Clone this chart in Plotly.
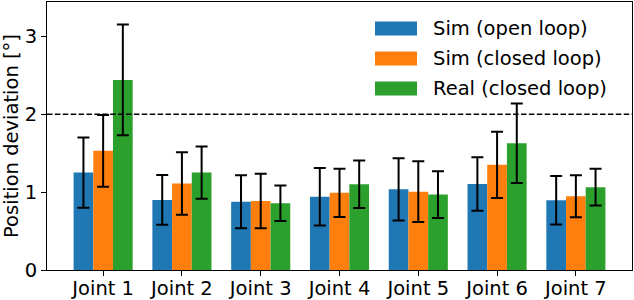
import plotly.graph_objects as go

joints = ["Joint 1", "Joint 2", "Joint 3", "Joint 4", "Joint 5", "Joint 6", "Joint 7"]
series_names = ["Sim (open loop)", "Sim (closed loop)", "Real (closed loop)"]
sim_open = [1.25, 0.90, 0.875, 0.94, 1.035, 1.105, 0.895]
sim_open_err = [0.45, 0.32, 0.34, 0.37, 0.40, 0.343, 0.31]
sim_closed = [1.53, 1.11, 0.885, 0.99, 1.005, 1.35, 0.947]
sim_closed_err = [0.46, 0.40, 0.35, 0.31, 0.39, 0.425, 0.27]
real_closed = [2.44, 1.25, 0.857, 1.10, 0.968, 1.628, 1.063]
real_closed_err = [0.71, 0.335, 0.227, 0.305, 0.30, 0.51, 0.236]
threshold = 2.0
y_ticks = [0, 1, 2, 3]

colors = ["#1f77b4", "#ff7f0e", "#2ca02c"]
values = [sim_open, sim_closed, real_closed]
errors = [sim_open_err, sim_closed_err, real_closed_err]

FONT = "DejaVu Sans"
FS = 19.5

fig = go.Figure()
xs = list(range(len(joints)))
for name, vals, errs, col in zip(series_names, values, errors, colors):
    fig.add_trace(go.Bar(
        x=xs, y=vals, name=name, marker=dict(color=col, line=dict(width=0)),
        error_y=dict(type="data", array=errs, visible=True, color="black",
                     thickness=2, width=6),
        showlegend=False,
    ))

fig.add_hline(y=threshold, line=dict(color="black", width=1.5, dash="5.5px,2.4px"))

# custom legend (matplotlib-like wide patches)
L, T = 47, 2
PW, PH = 585, 268
def px(x):
    return (x - L) / PW
def py(y):
    return (T + PH - y) / PH
for i, (name, col) in enumerate(zip(series_names, colors)):
    yc = 28.5 + 30 * i
    fig.add_shape(type="rect", xref="paper", yref="paper",
                  x0=px(375), x1=px(417), y0=py(yc + 7), y1=py(yc - 7),
                  fillcolor=col, line=dict(width=0))
    fig.add_annotation(xref="paper", yref="paper", x=px(431), y=py(yc),
                       text=name, showarrow=False, xanchor="left", yanchor="middle",
                       font=dict(family=FONT, size=FS, color="black"))

fig.update_layout(
    width=634, height=300,
    margin=dict(l=L, r=2, t=T, b=30),
    plot_bgcolor="white", paper_bgcolor="white",
    barmode="group", bargap=0.25, bargroupgap=0,
    font=dict(family=FONT, size=FS, color="black"),
    hovermode=False,
)
fig.update_xaxes(
    range=[-0.7125, 6.7125], tickmode="array", tickvals=xs, ticktext=joints,
    showgrid=False, zeroline=False, showline=True, linecolor="black", linewidth=1,
    mirror=True, ticks="outside", ticklen=5, tickcolor="black",
    tickfont=dict(family=FONT, size=FS), automargin=False, ticklabelstandoff=-4,
)
fig.update_yaxes(
    range=[0, 3.44], tickmode="array", tickvals=y_ticks,
    showgrid=False, zeroline=False, showline=True, linecolor="black", linewidth=1,
    mirror=True, ticks="outside", ticklen=5, tickcolor="black",
    tickfont=dict(family=FONT, size=FS), automargin=False,
    title=dict(text="Position deviation [°]", font=dict(family=FONT, size=FS), standoff=8),
)

fig.write_html(
    "out.html",
    config={"displayModeBar": False, "staticPlot": True},
    post_script="document.body.style.margin='0';document.body.style.padding='0';document.body.style.overflow='hidden';",
)
